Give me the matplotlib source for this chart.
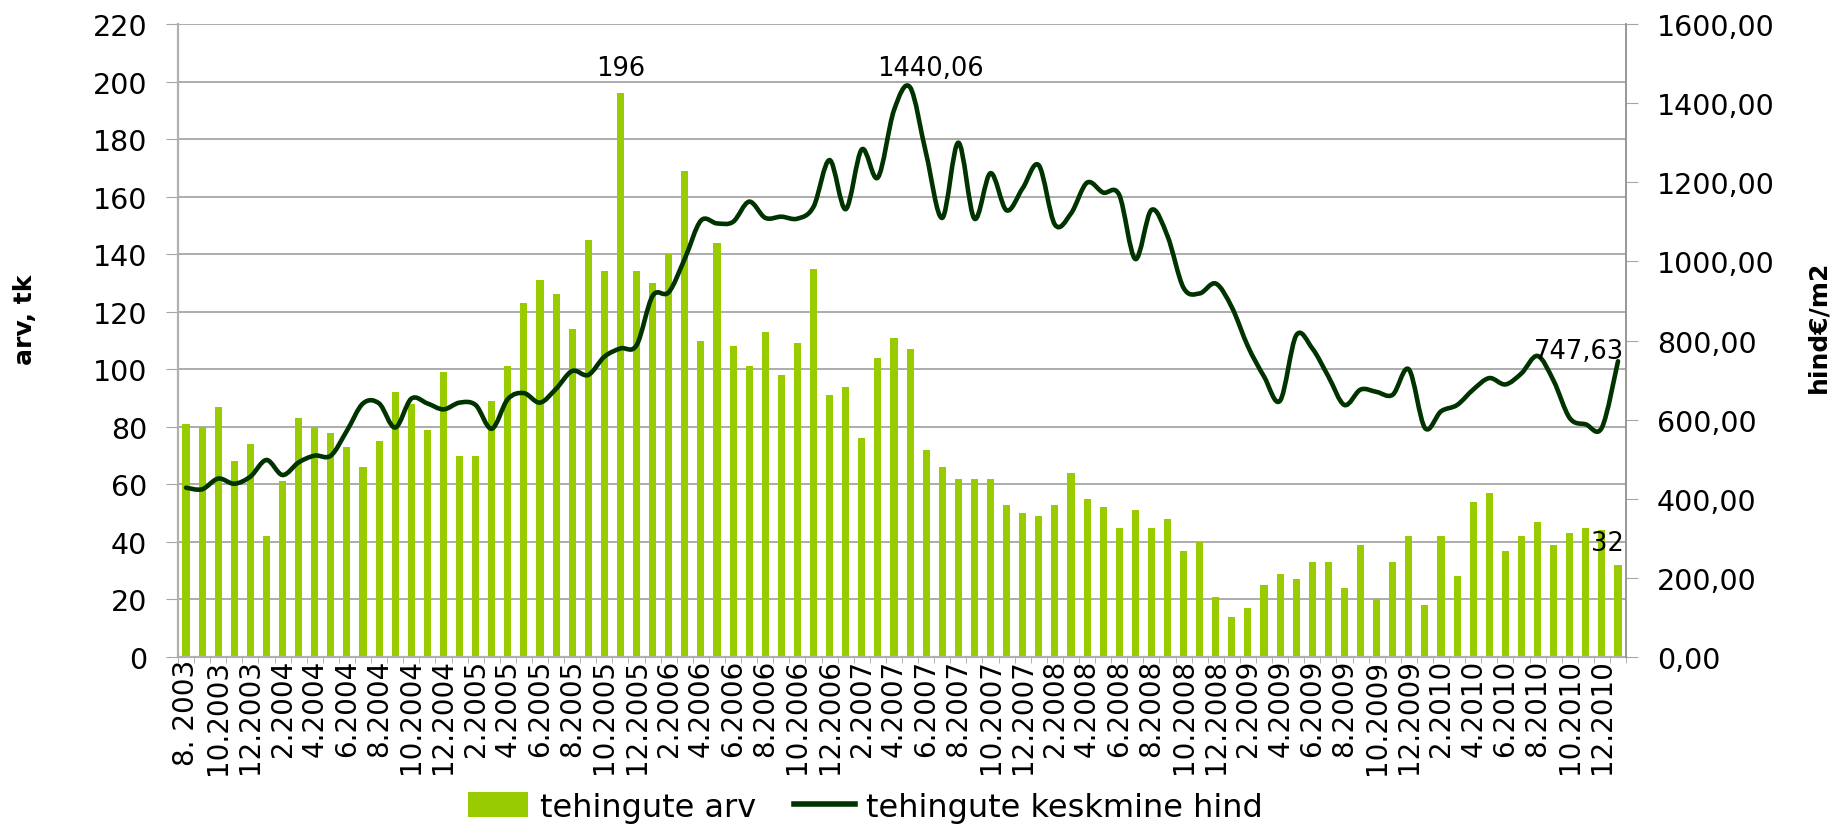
import matplotlib
matplotlib.use("Agg")
import matplotlib.pyplot as plt
from matplotlib.path import Path
from matplotlib.patches import PathPatch, Patch
from matplotlib.lines import Line2D
import numpy as np

plt.rcParams['font.family'] = ['DejaVu Sans']

# ---- data ----
tick_labels = [
    "8. 2003", "10.2003", "12.2003",
    "2.2004", "4.2004", "6.2004", "8.2004", "10.2004", "12.2004",
    "2.2005", "4.2005", "6.2005", "8.2005", "10.2005", "12.2005",
    "2.2006", "4.2006", "6.2006", "8.2006", "10.2006", "12.2006",
    "2.2007", "4.2007", "6.2007", "8.2007", "10.2007", "12.2007",
    "2.2008", "4.2008", "6.2008", "8.2008", "10.2008", "12.2008",
    "2.2009", "4.2009", "6.2009", "8.2009", "10.2009", "12.2009",
    "2.2010", "4.2010", "6.2010", "8.2010", "10.2010", "12.2010",
]

counts = [
    81, 80, 87, 68, 74, 42, 61, 83, 80, 78,
    73, 66, 75, 92, 88, 79, 99, 70, 70, 89,
    101, 123, 131, 126, 114, 145, 134, 196, 134, 130,
    140, 169, 110, 144, 108, 101, 113, 98, 109, 135,
    91, 94, 76, 104, 111, 107, 72, 66, 62, 62,
    62, 53, 50, 49, 53, 64, 55, 52, 45, 51,
    45, 48, 37, 40, 21, 14, 17, 25, 29, 27,
    33, 33, 24, 39, 20, 33, 42, 18, 42, 28,
    54, 57, 37, 42, 47, 39, 43, 45, 44, 32,
]

prices = [
    428, 424, 451, 438, 456, 498, 460, 492, 509, 509,
    572, 641, 641, 580, 653, 641, 626, 643, 637, 577,
    652, 667, 643, 678, 723, 713, 759, 780, 788, 913,
    922, 1007, 1103, 1096, 1100, 1151, 1110, 1113, 1108, 1138,
    1256, 1132, 1283, 1212, 1382, 1440.06, 1272, 1110, 1300, 1108,
    1223, 1129, 1185, 1243, 1093, 1121, 1199, 1174, 1168, 1006,
    1130, 1064, 933, 919, 944, 884, 785, 709, 648, 813,
    780, 709, 637, 676, 670, 663, 727, 579, 621, 637,
    676, 705, 689, 717, 761, 698, 604, 588, 580, 747.63,
]

series_names = ["tehingute arv", "tehingute keskmine hind"]

BAR_COLOR = "#99CC00"
LINE_COLOR = "#003300"
GRID_COLOR = "#A6A6A6"

fig = plt.figure(figsize=(18.33, 8.28), dpi=100)
ax = fig.add_axes([0.0971, 0.2053, 0.7900, 0.7645])

x = np.arange(len(counts))
ax.bar(x, counts, width=0.44, color=BAR_COLOR, zorder=2)
ax.set_xlim(-0.5, len(counts) - 0.5)
ax.set_ylim(0, 220)
ax.set_yticks(np.arange(0, 221, 20))
ax.grid(axis='y', color=GRID_COLOR, lw=1.3, zorder=0)
ax.set_axisbelow(True)

ax.set_xticks(x[::2])
ax.set_xticklabels(tick_labels, rotation=90, fontsize=20)
ax.set_xticks(np.arange(-0.5, len(counts), 1.0), minor=True)
ax.tick_params(axis='x', which='major', length=0, pad=1)
ax.tick_params(axis='x', which='minor', length=4, color=GRID_COLOR)
ax.tick_params(axis='y', length=8.6, color=GRID_COLOR, pad=13.5, labelsize=20.5)

for s in ['top', 'right']:
    ax.spines[s].set_visible(False)
for s in ['left', 'bottom']:
    ax.spines[s].set_color('#B0B0B0')
    ax.spines[s].set_linewidth(1.6)

# ---- secondary axis with smoothed line ----
ax2 = ax.twinx()
ax2.set_ylim(0, 1600)
ticks2 = np.arange(0, 1601, 200)
ax2.set_yticks(ticks2)
ax2.set_yticklabels([f"{v:.2f}".replace('.', ',') for v in ticks2])
ax2.tick_params(axis='y', length=8.6, color=GRID_COLOR, pad=13.5, labelsize=20.5)
for s in ['top', 'left', 'bottom']:
    ax2.spines[s].set_visible(False)
ax2.spines['right'].set_color('#909090')
ax2.spines['right'].set_linewidth(1.3)

px = x.astype(float)
py = np.array(prices, dtype=float)
n = len(px)
verts = [(px[0], py[0])]
codes = [Path.MOVETO]
for i in range(n - 1):
    i0 = max(i - 1, 0)
    i3 = min(i + 2, n - 1)
    c1 = (px[i] + (px[i + 1] - px[i0]) / 6.0, py[i] + (py[i + 1] - py[i0]) / 6.0)
    c2 = (px[i + 1] - (px[i3] - px[i]) / 6.0, py[i + 1] - (py[i3] - py[i]) / 6.0)
    verts += [c1, c2, (px[i + 1], py[i + 1])]
    codes += [Path.CURVE4, Path.CURVE4, Path.CURVE4]
ax2.add_patch(PathPatch(Path(verts, codes), fill=False, edgecolor=LINE_COLOR,
                        lw=3.3, capstyle='round', joinstyle='round', zorder=3))

# ---- data labels ----
imax = int(np.argmax(counts))
ax.annotate(str(counts[imax]), xy=(imax, counts[imax]), xytext=(0, 25),
            textcoords='offset pixels', ha='center', va='center', fontsize=18.5)
pmax = int(np.argmax(prices))
ax2.annotate(f"{prices[pmax]:.2f}".replace('.', ','), xy=(pmax, prices[pmax]),
             xytext=(20, 19), textcoords='offset pixels', ha='center', va='center', fontsize=18.5)
ax2.annotate(f"{prices[-1]:.2f}".replace('.', ','), xy=(n - 1, prices[-1]),
             xytext=(6, 10), textcoords='offset pixels', ha='right', va='center', fontsize=18.5)
ax.annotate(str(counts[-1]), xy=(n - 1, counts[-1]), xytext=(6, 22),
            textcoords='offset pixels', ha='right', va='center', fontsize=18.5)

# ---- axis titles ----
fig.text(25 / 1833, 1 - 320 / 828, "arv, tk", rotation=90, fontweight='bold',
         fontsize=18, ha='center', va='center')
fig.text(1818 / 1833, 1 - 327 / 828, "hind€/m2", rotation=90, fontweight='bold',
         fontsize=18, ha='center', va='center')

# ---- legend ----
handles = [Patch(facecolor=BAR_COLOR, edgecolor='none'),
           Line2D([], [], color=LINE_COLOR, lw=4)]
fig.legend(handles, series_names, loc='center', bbox_to_anchor=(0.472, 0.024),
           ncol=2, frameon=False, fontsize=23, handlelength=1.9, handleheight=0.8,
           handletextpad=0.35, columnspacing=1.2)

fig.savefig("out.png", dpi=100)
